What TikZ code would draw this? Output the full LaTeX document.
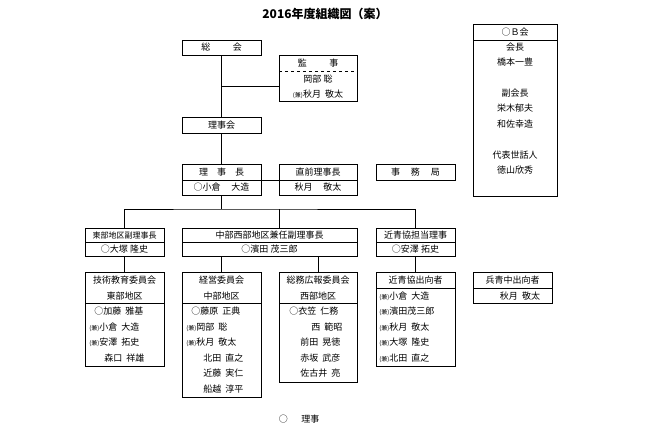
\documentclass[tikz,border=0pt]{standalone}
\usepackage{fontspec}
\newfontfamily\jp{Noto Sans CJK JP}
\usetikzlibrary{positioning}
\newcommand{\ken}{{\fontsize{6}{6}\selectfont(兼)}}

\begin{document}
\begin{tikzpicture}[x=1pt,y=-1pt,semithick,
  box/.style={draw,inner sep=0pt},
  txt/.style={inner sep=0pt,font=\jp\fontsize{9}{10}\selectfont}]
  \useasboundingbox (0,0) rectangle (650,427);

  \node[font=\jp\bfseries\fontsize{12}{12}\selectfont] (title) at (325,14) {2016年度組織図（案）};

  % upper part
  \node[box,minimum width=79,minimum height=15] (sokai) at (221.5,47.5) {};
  \node[txt] at (sokai) {総\hspace{2.5em}会};
  \node[box,minimum width=78,minimum height=46] (kanji) at (318,78) {};
  \draw[dashed,thin] (279,71) -- (357,71);
  \node[txt] at (318,63) {監\hspace{2.5em}事};
  \node[txt] at (318,79) {岡部 聡};
  \node[txt] at (318,94) {\ken 秋月\ \ 敬太};
  \node[box,minimum width=79,minimum height=16] (rijikai) at (221.5,125) {};
  \node[txt] at (rijikai) {理事会};

  \coordinate (k1) at (221.5,86);
  \draw (sokai) -- (rijikai);
  \draw (k1) -- (kanji.west |- k1);

  % 理事長
  \node[box,minimum width=79,minimum height=31] (rijicho) at (221.5,179.5) {};
  \draw (182,180) -- (261,180);
  \node[txt] at (221.5,172) {理\hspace{1em}事\hspace{1em}長};
  \node[txt] at (221.5,187.5) {○小倉\hspace{1.2em}大造};
  \node[box,minimum width=78,minimum height=31] (zenrijicho) at (318,179.5) {};
  \draw (279,180) -- (357,180);
  \node[txt] at (318,172) {直前理事長};
  \node[txt] at (318,187.5) {秋月\hspace{1.2em}敬太};
  \node[box,minimum width=79,minimum height=16] (jimukyoku) at (415.5,172) {};
  \node[txt] at (jimukyoku) {事\hspace{1.2em}務\hspace{1.2em}局};
  \draw (rijikai) -- (rijicho);
  \draw (rijicho.east |- 0,180) -- (zenrijicho.west |- 0,180);

  % 副理事長
  \node[box,minimum width=79,minimum height=28] (tobu) at (124.5,242) {};
  \draw (85,242) -- (164,242);
  \node[txt,font=\jp\fontsize{8}{9}\selectfont] at (124.5,235) {東部地区副理事長};
  \node[txt] at (124.5,249) {○大塚 隆史};
  \node[box,minimum width=175,minimum height=28] (chubu) at (269.5,242) {};
  \draw (182,242) -- (357,242);
  \node[txt] at (269.5,235) {中部西部地区兼任副理事長};
  \node[txt] at (269.5,249) {○濱田 茂三郎};
  \node[box,minimum width=79,minimum height=28] (kinsei) at (415.5,242) {};
  \draw (376,242) -- (455,242);
  \node[txt] at (415.5,235) {近青協担当理事};
  \node[txt] at (415.5,249) {○安澤 拓史};

  \coordinate (b1) at (221.5,209);
  \draw (rijicho) -- (b1);
  \draw (tobu.north) |- (b1) -| (kinsei.north);
  \draw (chubu.north -| 279,0) -- (279,209);

  % 委員会
  \node[box,minimum width=79,minimum height=94] (gijutsu) at (124.5,319) {};
  \draw (85,303) -- (164,303);
  \node[txt] at (124.5,280) {技術教育委員会};
  \node[txt] at (124.5,296) {東部地区};
  \node[txt,anchor=west] at (94,311) {○加藤\ \ 雅基};
  \node[txt,anchor=west] at (89,327) {\ken 小倉\ \ 大造};
  \node[txt,anchor=west] at (89,342) {\ken 安澤\ \ 拓史};
  \node[txt,anchor=west] at (104,358) {森口\ \ 祥雄};

  \node[box,minimum width=79,minimum height=125] (keiei) at (221.5,334.5) {};
  \draw (182,303) -- (261,303);
  \node[txt] at (221.5,280) {経営委員会};
  \node[txt] at (221.5,296) {中部地区};
  \node[txt,anchor=west] at (191,311) {○藤原\ \ 正典};
  \node[txt,anchor=west] at (186,327) {\ken 岡部\ \ 聡};
  \node[txt,anchor=west] at (186,342) {\ken 秋月\ \ 敬太};
  \node[txt,anchor=west] at (203,358) {北田\ \ 直之};
  \node[txt,anchor=west] at (203,373) {近藤\ \ 実仁};
  \node[txt,anchor=west] at (203,389) {船越\ \ 淳平};

  \node[box,minimum width=78,minimum height=110] (somu) at (318,327) {};
  \draw (279,303) -- (357,303);
  \node[txt] at (318,280) {総務広報委員会};
  \node[txt] at (318,296) {西部地区};
  \node[txt,anchor=west] at (289,311) {○衣笠\ \ 仁務};
  \node[txt,anchor=west] at (311,327) {西\ \ 範昭};
  \node[txt,anchor=west] at (300,342) {前田\ \ 晃徳};
  \node[txt,anchor=west] at (300,358) {赤坂\ \ 武彦};
  \node[txt,anchor=west] at (300,373) {佐古井\ \ 亮};

  \node[box,minimum width=79,minimum height=94] (shukko) at (415.5,319) {};
  \draw (376,288) -- (455,288);
  \node[txt] at (415.5,280) {近青協出向者};
  \node[txt,anchor=west] at (379,296) {\ken 小倉\ \ 大造};
  \node[txt,anchor=west] at (379,311) {\ken 濱田茂三郎};
  \node[txt,anchor=west] at (379,327) {\ken 秋月\ \ 敬太};
  \node[txt,anchor=west] at (379,342) {\ken 大塚\ \ 隆史};
  \node[txt,anchor=west] at (379,358) {\ken 北田\ \ 直之};

  \node[box,minimum width=79,minimum height=31] (heisei) at (512.5,287.5) {};
  \draw (473,288) -- (552,288);
  \node[txt] at (512.5,280) {兵青中出向者};
  \node[txt] at (520,296) {秋月\ \ 敬太};

  \draw (tobu) -- (gijutsu);
  \draw (kinsei) -- (shukko);
  \draw (keiei.north) -- (keiei.north |- chubu.south);
  \draw (somu.north) -- (somu.north |- chubu.south);

  % OB会
  \node[box,minimum width=84,minimum height=172] (ob) at (515,110) {};
  \draw (473,40) -- (557,40);
  \node[txt] at (515,32) {○Ｂ会};
  \node[txt] at (515,47) {会長};
  \node[txt] at (515,62) {橋本一豊};
  \node[txt] at (515,93) {副会長};
  \node[txt] at (515,108) {栄木郁夫};
  \node[txt] at (515,124) {和佐幸造};
  \node[txt] at (515,155) {代表世話人};
  \node[txt] at (515,170) {徳山欣秀};

  \node[txt] (legend) at (299,419) {○\hspace{1.5em}理事};
\end{tikzpicture}
\end{document}
